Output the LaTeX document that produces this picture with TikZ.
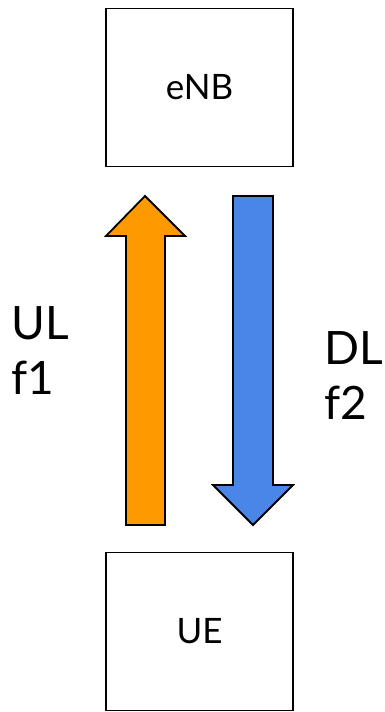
\documentclass[tikz,border=0pt]{standalone}
\usepackage{fontspec}
\setmainfont{Lato}
\definecolor{ulorange}{HTML}{FF9900}
\definecolor{dlblue}{HTML}{4A86E8}
\begin{document}
\begin{tikzpicture}[x=1pt,y=1pt,
  box/.style={draw=black,line width=1.8pt,minimum width=187pt,minimum height=158pt,inner sep=0pt,font=\fontsize{35}{42}\selectfont},
  lbl/.style={anchor=base west,inner sep=0pt,font=\fontsize{46}{55}\selectfont},
  arr/.style={draw=black,line width=1.8pt,line join=miter}]
\useasboundingbox (0,0) rectangle (385,712);
\node[box] (enb) at (199.5,624.5) {eNB};
\node[box] (ue) at (199.5,80.5) {UE};
% UL arrow (up)
\draw[arr,fill=ulorange] (126,187) -- (165,187) -- (165,476) -- (185,476) -- (145,516) -- (106,476) -- (126,476) -- cycle;
% DL arrow (down)
\draw[arr,fill=dlblue] (233,516) -- (273,516) -- (273,227) -- (293,227) -- (253,187) -- (213,227) -- (233,227) -- cycle;
\node[lbl] (ul) at (11,372) {UL};
\node[lbl] (f1) at (11,317) {f1};
\node[lbl] (dl) at (324,347) {DL};
\node[lbl] (f2) at (324,292) {f2};
\end{tikzpicture}
\end{document}
